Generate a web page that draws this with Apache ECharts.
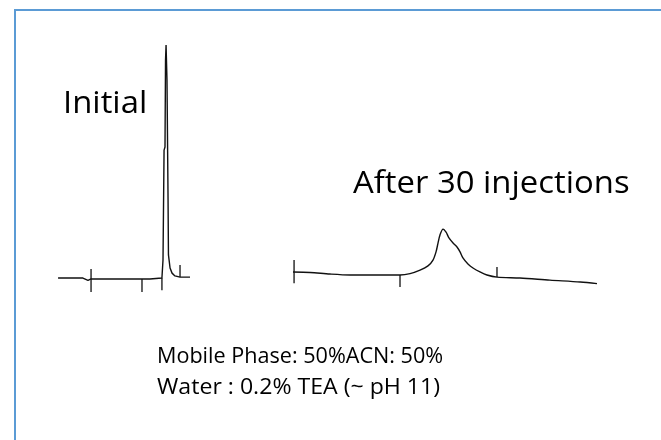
<!DOCTYPE html>
<html>
<head>
<meta charset="utf-8">
<title>Chromatogram: initial vs after 30 injections</title>
<script src="https://cdn.jsdelivr.net/npm/echarts@6/dist/echarts.min.js"></script>
<style>
  html, body { margin: 0; padding: 0; background: #ffffff; }
  #chart { width: 661px; height: 440px; }
</style>
</head>
<body>
<div id="chart"></div>
<script>
// Retention time (min) and detector response for the first injection
const initialTime = [0.08, 1.95, 2.33, 2.56, 2.71, 6.24, 6.99, 7.89, 7.97, 8.05, 8.12, 8.16, 8.2, 8.27, 8.35, 8.38, 8.5, 8.65, 8.87, 9.25, 10.0];
const initialSignal = [0.0, 0.0, -1.0, -0.4, -0.5, -0.4, -0.4, 0.0, 7.7, 54.9, 56.2, 93.6, 100.0, 85.0, 33.5, 9.9, 4.3, 2.1, 0.9, 0.4, 0.4];

// Same column after 30 injections: broadened, tailing peak
const agedTime = [0.0, 1.12, 2.43, 3.75, 5.07, 7.04, 7.7, 8.36, 8.88, 9.21, 9.41, 9.54, 9.67, 9.87, 10.07, 10.26, 10.53, 10.79, 10.99, 11.18, 11.51, 11.84, 12.3, 12.76, 13.42, 14.93, 16.9, 18.9, 20.0];
const agedSignal = [2.6, 2.4, 1.7, 1.3, 1.3, 1.3, 1.9, 3.4, 5.2, 7.7, 11.2, 15.0, 18.5, 21.0, 19.7, 17.2, 15.0, 13.3, 11.2, 8.6, 6.0, 4.3, 2.6, 1.3, 0.4, 0.0, -0.9, -1.7, -2.4];

// Recorder event marks: time, upper and lower end of each tick
const initialTickTime = [2.56, 6.39, 7.89, 9.25];
const initialTickTop = [3.9, -0.4, 0.0, 5.6];
const initialTickBottom = [-6.0, -6.0, -5.2, 0.4];
const agedTickTime = [0.07, 7.04, 13.42];
const agedTickTop = [7.7, 1.3, 4.7];
const agedTickBottom = [-2.2, -3.9, 0.4];

// Labels
const initialLabel = 'Initial';
const agedLabel = 'After 30 injections';
const conditionLines = ['Mobile Phase: 50%ACN: 50%', 'Water : 0.2% TEA (~ pH 11)'];

function pairs(xs, ys) {
  return xs.map((x, i) => [x, ys[i]]);
}
function tickSegments(ts, tops, bottoms) {
  const out = [];
  ts.forEach((t, i) => {
    out.push([t, tops[i]], [t, bottoms[i]], [null, null]);
  });
  return out;
}

const chart = echarts.init(document.getElementById('chart'), null, { renderer: 'canvas' });

const hiddenAxis = {
  type: 'value',
  show: false,
  splitLine: { show: false }
};

const traceStyle = { color: '#111111', width: 1.4 };

chart.setOption({
  animation: false,
  backgroundColor: '#ffffff',
  grid: [
    { left: 57, top: 45, width: 133, height: 247 },
    { left: 293, top: 45, width: 304, height: 247 }
  ],
  xAxis: [
    Object.assign({ gridIndex: 0, min: 0, max: 10 }, hiddenAxis),
    Object.assign({ gridIndex: 1, min: 0, max: 20 }, hiddenAxis)
  ],
  yAxis: [
    Object.assign({ gridIndex: 0, min: -6, max: 100 }, hiddenAxis),
    Object.assign({ gridIndex: 1, min: -6, max: 100 }, hiddenAxis)
  ],
  series: [
    {
      type: 'line', xAxisIndex: 0, yAxisIndex: 0,
      data: pairs(initialTime, initialSignal),
      showSymbol: false, clip: false, lineStyle: traceStyle
    },
    {
      type: 'line', xAxisIndex: 0, yAxisIndex: 0,
      data: tickSegments(initialTickTime, initialTickTop, initialTickBottom),
      showSymbol: false, clip: false, connectNulls: false,
      lineStyle: { color: '#111111', width: 1.3 }
    },
    {
      type: 'line', xAxisIndex: 1, yAxisIndex: 1,
      data: pairs(agedTime, agedSignal),
      showSymbol: false, clip: false, smooth: 0.3, lineStyle: traceStyle
    },
    {
      type: 'line', xAxisIndex: 1, yAxisIndex: 1,
      data: tickSegments(agedTickTime, agedTickTop, agedTickBottom),
      showSymbol: false, clip: false, connectNulls: false,
      lineStyle: { color: '#111111', width: 1.3 }
    }
  ],
  graphic: [
    {
      type: 'rect', silent: true,
      shape: { x: 15, y: 10, width: 700, height: 500 },
      style: { fill: 'none', stroke: '#5b9bd5', lineWidth: 2 }
    },
    {
      type: 'text', x: 63, y: 104, scaleX: 1.06,
      style: { text: initialLabel, font: '31px "Open Sans"', fill: '#000000', textVerticalAlign: 'middle' }
    },
    {
      type: 'text', x: 353, y: 184, scaleX: 1.06,
      style: { text: agedLabel, font: '31px "Open Sans"', fill: '#000000', textVerticalAlign: 'middle' }
    },
    {
      type: 'text', x: 157, y: 357,
      style: { text: conditionLines[0], font: '21.6px "Open Sans"', fill: '#000000', textVerticalAlign: 'middle' }
    },
    {
      type: 'text', x: 157, y: 388, scaleX: 1.07,
      style: { text: conditionLines[1], font: '21.6px "Open Sans"', fill: '#000000', textVerticalAlign: 'middle' }
    }
  ]
});
</script>
</body>
</html>
